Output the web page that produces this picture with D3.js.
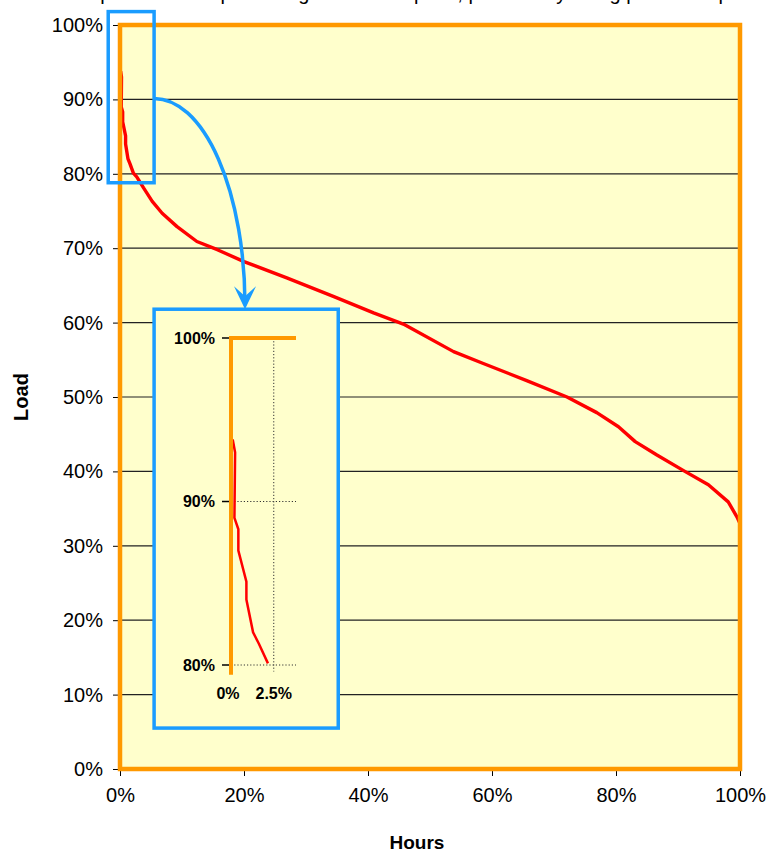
<!DOCTYPE html>
<html><head><meta charset="utf-8">
<script src="https://cdn.jsdelivr.net/npm/d3@7"></script>
<style>
html,body{margin:0;padding:0;background:#fff;}
svg{display:block;font-family:Arial,"Liberation Sans",sans-serif;}
</style></head>
<body>
<svg id="chart" width="770" height="852"></svg>
<script>
// ---------- data ----------
const titleText = "Load duration curve expressed as a percentage of annual peak, period only being peak load period in the year";
const hoursPct = [0.1,0.24,0.2,0.43,0.43,0.9,0.9,1.29,1.63,2.16,2.7,3.8,5.2,6.8,9.2,12.4,15.7,20,26.9,34.5,40.9,45.7,53.8,58.6,65.6,72.1,76.9,80.4,83.1,86.6,90.9,94.9,98.1,99.5,100];
const loadPct  = [93.8,93.0,89.0,88.3,87.0,85.1,84.0,82.0,81.3,80.1,79.6,78.1,76.3,74.7,72.9,70.9,69.8,68.2,66.0,63.5,61.3,59.8,56.1,54.5,52.2,50.0,47.9,46.0,44.0,42.2,40.1,38.2,35.9,33.9,33.0];
const xTicks = [0,20,40,60,80,100];
const yTicks = [0,10,20,30,40,50,60,70,80,90,100];
const insetXTicks = [0,2.5];
const insetYTicks = [80,90,100];
const insetXMax = 3.8;     // extent of zoomed x-range
const zoomRegion = {x0:-1.9, x1:5.5, y0:78.8, y1:101.8}; // highlighted region (data space)
const insetBox = {x0:5.5, x1:35.2, y0:5.5, y1:61.8};      // inset placement (data space)

const points = hoursPct.map((h,i)=>({h, l: loadPct[i]}));

// ---------- layout ----------
const C = {orange:"#FF9900", yellow:"#FFFFCC", blue:"#1A9CFF", red:"#FF0000", grid:"#222"};
const svg = d3.select("#chart");
const x = d3.scaleLinear().domain([0,100]).range([120,740]);
const y = d3.scaleLinear().domain([0,100]).range([769,25]);

// title (cut off at top, as in the reference)
svg.append("text").attr("x",385).attr("y",-0.5).attr("text-anchor","middle")
  .attr("font-size",20).attr("fill","#000").text(titleText);

// plot background
svg.append("rect").attr("x",x(0)).attr("y",y(100)).attr("width",x(100)-x(0)).attr("height",y(0)-y(100))
  .attr("fill",C.yellow);

// gridlines
svg.append("g").selectAll("line").data(yTicks.filter(d=>d>0&&d<100)).join("line")
  .attr("x1",x(0)).attr("x2",x(100)).attr("y1",d=>y(d)).attr("y2",d=>y(d))
  .attr("stroke",C.grid).attr("stroke-width",1.2);

// axes
const yAxis = d3.axisLeft(y).tickValues(yTicks).tickFormat(d=>d+"%").tickSize(6).tickPadding(10);
const gy = svg.append("g").attr("transform",`translate(${x(0)-1},0)`).call(yAxis);
const xAxis = d3.axisBottom(x).tickValues(xTicks).tickFormat(d=>d+"%").tickSize(6).tickPadding(12);
const gx = svg.append("g").attr("transform",`translate(0,${y(0)+1})`).call(xAxis);
[gy,gx].forEach(g=>{
  g.select(".domain").remove();
  g.selectAll("line").attr("stroke","#000");
  g.selectAll("text").attr("font-size",20).attr("fill","#000").attr("font-family","Arial,'Liberation Sans',sans-serif");
});

// curve
const line = d3.line().x(d=>x(d.h)).y(d=>y(d.l));
svg.append("path").datum(points).attr("d",line).attr("fill","none")
  .attr("stroke",C.red).attr("stroke-width",3.4).attr("stroke-linejoin","round");

// plot border
svg.append("rect").attr("x",x(0)).attr("y",y(100)).attr("width",x(100)-x(0)).attr("height",y(0)-y(100))
  .attr("fill","none").attr("stroke",C.orange).attr("stroke-width",4.5);

// axis titles
svg.append("text").attr("x",417).attr("y",849).attr("text-anchor","middle")
  .attr("font-size",19).attr("font-weight","bold").text("Hours");
svg.append("text").attr("transform",`translate(28,${(y(0)+y(100))/2}) rotate(-90)`).attr("text-anchor","middle")
  .attr("font-size",20).attr("font-weight","bold").text("Load");

// highlighted zoom region
svg.append("rect").attr("x",x(zoomRegion.x0)).attr("y",y(zoomRegion.y1))
  .attr("width",x(zoomRegion.x1)-x(zoomRegion.x0)).attr("height",y(zoomRegion.y0)-y(zoomRegion.y1))
  .attr("fill","none").attr("stroke",C.blue).attr("stroke-width",3.5);

// inset box
const bx0 = x(insetBox.x0), bx1 = x(insetBox.x1), by0 = y(insetBox.y1), by1 = y(insetBox.y0);
svg.append("rect").attr("x",bx0).attr("y",by0).attr("width",bx1-bx0).attr("height",by1-by0)
  .attr("fill",C.yellow).attr("stroke",C.blue).attr("stroke-width",3.5);

// arrow (quarter ellipse from region to inset)
const ax0 = x(zoomRegion.x1), ay0 = y(90)-1;
const tipX = 245, tipY = by0;
const rx = tipX-ax0, ry = (tipY-4)-ay0;
svg.append("path").attr("d",`M${ax0},${ay0} A${rx},${ry} 0 0 1 ${tipX},${tipY-4}`)
  .attr("fill","none").attr("stroke",C.blue).attr("stroke-width",3.5);
svg.append("path").attr("d",`M${tipX},${tipY} L${tipX-11},${tipY-23} L${tipX},${tipY-13} L${tipX+11},${tipY-23} Z`)
  .attr("fill",C.blue);

// inset chart
const ix = d3.scaleLinear().domain([0,insetXMax]).range([231,296]);
const iy = d3.scaleLinear().domain([80,100]).range([665,338]);
const ig = svg.append("g");
// dotted grid
ig.selectAll("line.hg").data(insetYTicks.filter(d=>d<100)).join("line").attr("class","hg")
  .attr("x1",ix(0)).attr("x2",ix(insetXMax)).attr("y1",d=>iy(d)).attr("y2",d=>iy(d))
  .attr("stroke","#333").attr("stroke-width",1).attr("stroke-dasharray","1.2,2");
ig.append("line").attr("x1",ix(2.5)).attr("x2",ix(2.5)).attr("y1",iy(100)).attr("y2",iy(79.6))
  .attr("stroke","#333").attr("stroke-width",1).attr("stroke-dasharray","1.2,2");
// ticks + labels
ig.selectAll("line.yt").data(insetYTicks).join("line").attr("class","yt")
  .attr("x1",ix(0)-9).attr("x2",ix(0)-2).attr("y1",d=>iy(d)).attr("y2",d=>iy(d))
  .attr("stroke","#000").attr("stroke-width",1.5);
ig.selectAll("text.yl").data(insetYTicks).join("text").attr("class","yl")
  .attr("x",ix(0)-16).attr("y",d=>iy(d)).attr("dy","0.36em").attr("text-anchor","end")
  .attr("font-size",16).attr("font-weight","bold").text(d=>d+"%");
ig.selectAll("text.xl").data(insetXTicks).join("text").attr("class","xl")
  .attr("x",(d,i)=>ix(d)-(i===0?3:0)).attr("y",699).attr("text-anchor","middle")
  .attr("font-size",16).attr("font-weight","bold").text(d=>d+"%");
// curve
ig.append("path").datum(points.filter(d=>d.h<=2.2&&d.l>=80))
  .attr("d",d3.line().x(d=>ix(d.h)).y(d=>iy(d.l))).attr("fill","none")
  .attr("stroke",C.red).attr("stroke-width",2.5);
// orange frame (plot border's left/top)
ig.append("path").attr("d",`M${ix(0)},${iy(79.4)} L${ix(0)},${iy(100)} L${ix(insetXMax)},${iy(100)}`)
  .attr("fill","none").attr("stroke",C.orange).attr("stroke-width",4);
</script>
</body></html>
